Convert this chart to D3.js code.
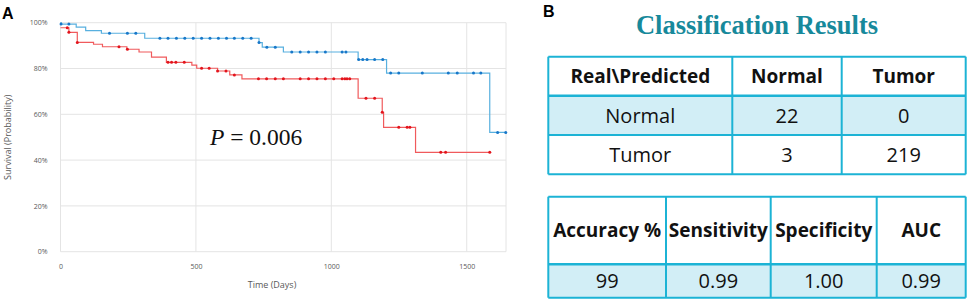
<!DOCTYPE html>
<html>
<head>
<meta charset="utf-8">
<script src="https://cdn.jsdelivr.net/npm/d3@7"></script>
<style>
  body { margin: 0; background: #fff; }
  text { font-family: "Open Sans", sans-serif; }
</style>
</head>
<body>
<svg id="fig" width="969" height="306"></svg>
<script>
// Kaplan-Meier steps: [day, survival %]
const blueSteps = [[0, 100], [2, 99.4], [58, 98.1], [93, 96.5], [151, 95.4], [311, 93.2],
  [733, 91.3], [745, 89.3], [823, 87.2], [1099, 83.9], [1204, 78.0], [1585, 52.1]];
const blueEnd = 1645;
const blueCensor = [2, 31, 181, 247, 278, 367, 397, 428, 459, 490, 521, 552, 583, 613, 642,
  673, 704, 733, 762, 793, 854, 885, 916, 947, 978, 1040, 1054, 1101, 1116, 1132, 1160, 1190,
  1219, 1249, 1336, 1432, 1465, 1525, 1552, 1614, 1644];

const redSteps = [[0, 97.8], [31, 95.8], [62, 91.4], [122, 90.6], [155, 89.5], [245, 88.4],
  [290, 87.2], [336, 85.0], [391, 82.7], [485, 81.5], [503, 80.1], [580, 78.9], [625, 77.2],
  [670, 75.5], [1099, 67.0], [1188, 60.9], [1193, 54.3], [1311, 43.4]];
const redEnd = 1585;
const redCensor = [25, 31, 62, 216, 247, 397, 410, 426, 457, 521, 549, 580, 611, 642, 731,
  761, 793, 823, 885, 916, 947, 978, 1009, 1040, 1050, 1058, 1068, 1128, 1160, 1188, 1249,
  1280, 1290, 1404, 1422, 1585];

const xTicks = [0, 500, 1000, 1500];
const yTicks = [0, 20, 40, 60, 80, 100];
const pValue = "0.006";

// classification tables
const confHeader = ["Real\\Predicted", "Normal", "Tumor"];
const confRows = [["Normal", "22", "0"], ["Tumor", "3", "219"]];
const metricHeader = ["Accuracy %", "Sensitivity", "Specificity", "AUC"];
const metricValues = ["99", "0.99", "1.00", "0.99"];

const svg = d3.select("#fig");

// ---------- panel A ----------
const x = d3.scaleLinear().domain([0, 1645]).range([60.5, 506]);
const y = d3.scaleLinear().domain([0, 100]).range([251.7, 22.7]);

const grid = svg.append("g").attr("stroke", "#e4e4e4").attr("stroke-width", 1);
grid.selectAll("line.h").data(yTicks).join("line")
  .attr("x1", x.range()[0]).attr("x2", x.range()[1])
  .attr("y1", d => y(d)).attr("y2", d => y(d));
grid.selectAll("line.v").data(xTicks.concat([1645])).join("line")
  .attr("y1", y(0)).attr("y2", y(100))
  .attr("x1", d => x(d)).attr("x2", d => x(d));

svg.append("g")
  .attr("transform", `translate(${x.range()[0]},0)`)
  .call(d3.axisLeft(y).tickValues(yTicks).tickFormat(d => d + "%").tickSize(0).tickPadding(13))
  .call(g => g.select(".domain").remove())
  .selectAll("text").attr("font-size", 7).attr("fill", "#595959")
  .style("font-family", "'Open Sans', sans-serif");

svg.append("g")
  .attr("transform", `translate(0,${y(0)})`)
  .call(d3.axisBottom(x).tickValues(xTicks).tickFormat(d3.format("d")).tickSize(0).tickPadding(12))
  .call(g => g.select(".domain").remove())
  .selectAll("text").attr("font-size", 7).attr("fill", "#595959")
  .style("font-family", "'Open Sans', sans-serif");

svg.append("text").attr("x", 272).attr("y", 288).attr("text-anchor", "middle")
  .attr("font-size", 9).attr("fill", "#595959").text("Time (Days)");
svg.append("text").attr("transform", `translate(11,${(y(0) + y(100)) / 2}) rotate(-90)`)
  .attr("text-anchor", "middle").attr("font-size", 9).attr("fill", "#595959")
  .text("Survival (Probability)");

const line = d3.line().x(d => x(d[0])).y(d => y(d[1])).curve(d3.curveStepAfter);
const survAt = (steps, t) => {
  let s = steps[0][1];
  steps.forEach(([tt, v]) => { if (tt <= t) s = v; });
  return s;
};

function drawSeries(steps, end, censor, lineColor, dotColor) {
  const pts = steps.concat([[end, steps[steps.length - 1][1]]]);
  svg.append("path").datum(pts).attr("d", line)
    .attr("fill", "none").attr("stroke", lineColor).attr("stroke-width", 1.2);
  svg.append("g").selectAll("circle").data(censor).join("circle")
    .attr("cx", d => x(d)).attr("cy", d => y(survAt(steps, d)))
    .attr("r", 1.5).attr("fill", dotColor);
}
drawSeries(blueSteps, blueEnd, blueCensor, "#58b0df", "#1777c9");
drawSeries(redSteps, redEnd, redCensor, "#f05a5c", "#e3141c");

const pText = svg.append("text").attr("x", 210).attr("y", 145)
  .attr("font-size", 23.5).attr("fill", "#111").style("font-family", "'Liberation Serif', serif");
pText.append("tspan").attr("font-style", "italic").text("P");
pText.append("tspan").text(" = " + pValue);

svg.append("text").attr("x", 2).attr("y", 18.5).attr("font-size", 16).attr("font-weight", "bold")
  .style("font-family", "'Liberation Sans', Arial, sans-serif").text("A");
svg.append("text").attr("x", 543).attr("y", 17).attr("font-size", 16).attr("font-weight", "bold")
  .style("font-family", "'Liberation Sans', Arial, sans-serif").text("B");

// ---------- panel B ----------
svg.append("text").attr("x", 757).attr("y", 33.5).attr("text-anchor", "middle")
  .attr("font-size", 26.5).attr("font-weight", "bold").attr("fill", "#17899b")
  .style("font-family", "'Liberation Serif', serif").text("Classification Results");

const border = "#1cb3d5", fillHi = "#d2eef6";

function drawTable(cols, rowsY, rows, highlight, headSize, bodySize) {
  const g = svg.append("g");
  rows.forEach((row, ri) => {
    const y0 = rowsY[ri], y1 = rowsY[ri + 1];
    if (highlight[ri]) {
      g.append("rect").attr("x", cols[0]).attr("y", y0)
        .attr("width", cols[cols.length - 1] - cols[0]).attr("height", y1 - y0)
        .attr("fill", fillHi);
    }
    row.forEach((cell, ci) => {
      const head = ri === 0;
      g.append("text")
        .attr("x", (cols[ci] + cols[ci + 1]) / 2)
        .attr("y", (y0 + y1) / 2).attr("dy", "0.36em")
        .attr("text-anchor", "middle")
        .attr("font-size", head ? headSize : bodySize)
        .attr("font-weight", head ? "bold" : "normal")
        .attr("fill", "#111").text(cell);
    });
  });
  g.selectAll("line.r").data(rowsY).join("line")
    .attr("x1", cols[0]).attr("x2", cols[cols.length - 1])
    .attr("y1", d => d).attr("y2", d => d)
    .attr("stroke", border).attr("stroke-width", (d, i) => i === 1 ? 2.5 : 2);
  g.selectAll("line.c").data(cols).join("line")
    .attr("y1", rowsY[0]).attr("y2", rowsY[rowsY.length - 1])
    .attr("x1", d => d).attr("x2", d => d)
    .attr("stroke", border).attr("stroke-width", 2);
}

drawTable([548.3, 732.3, 841.7, 965.7], [56.7, 95.7, 135, 174.3],
  [confHeader].concat(confRows), [false, true, false], 19, 20);
drawTable([548.3, 666, 770.7, 876.7, 965.7], [196.7, 264.3, 297.7],
  [metricHeader, metricValues], [false, true], 19, 20);
</script>
</body>
</html>
